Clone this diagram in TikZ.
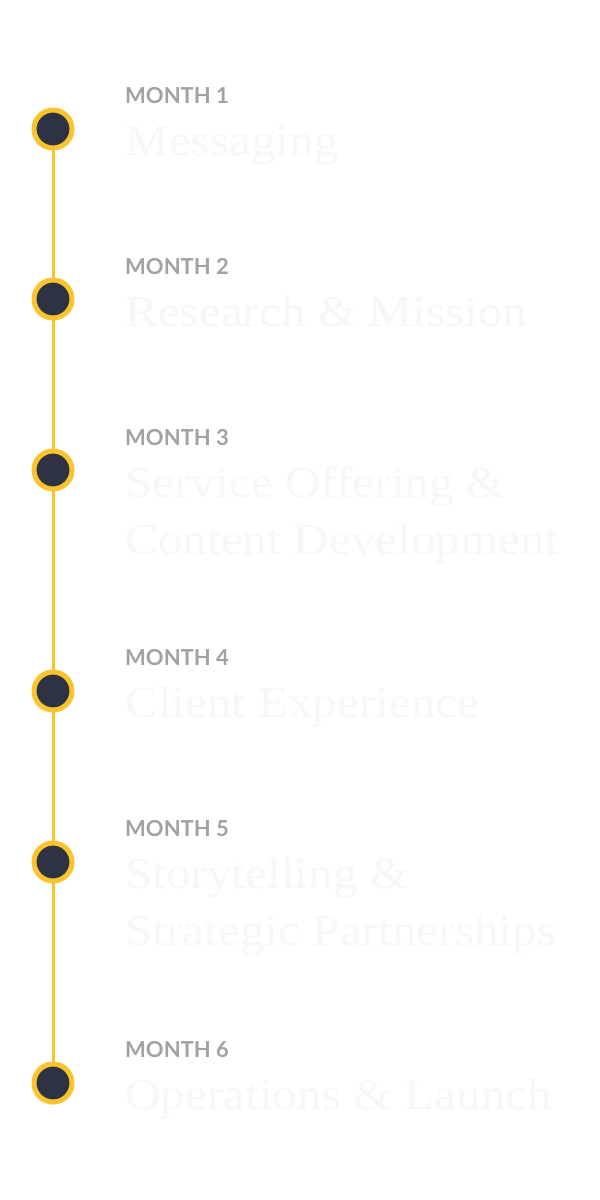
\documentclass[tikz,border=0pt]{standalone}
\usepackage{fontspec}
\setmainfont{Liberation Serif}[FakeStretch=1.12]
\newfontfamily\latofont{Lato}
\definecolor{gold}{HTML}{F9C42E}
\definecolor{navy}{HTML}{2E3344}
\definecolor{monthgray}{HTML}{A2A2A6}
\definecolor{faint}{HTML}{F7F7F7}
\tikzset{
  dot/.style={circle,fill=navy,draw=gold,line width=5pt,minimum size=38pt,inner sep=0pt},
  month/.style={anchor=base west,inner sep=0pt,text=monthgray,font=\latofont\bfseries\fontsize{22}{22}\selectfont},
  title/.style={anchor=base west,inner sep=0pt,text=faint,align=left,font=\fontsize{44}{57}\selectfont},
  rail/.style={draw=gold,line width=3pt}
}
\begin{document}
\begin{tikzpicture}[x=1pt,y=-1pt]
\useasboundingbox[fill=white] (0,0) rectangle (600,1200);
\foreach \i/\c in {1/129,2/299,3/470,4/691,5/862,6/1083}{
  \coordinate (c\i) at (53,\c);
}
\draw[rail] (c1) -- (c6);
\foreach \i in {1,...,6}{ \node[dot] (d\i) at (c\i) {}; }
\node[month] (m1) at (125,103) {MONTH 1};
\node[title] (t1) at (125,155) {Messaging};
\node[month] (m2) at (125,274) {MONTH 2};
\node[title] (t2) at (125,326) {Research \& Mission};
\node[month] (m3) at (125,445) {MONTH 3};
\node[title] (t3) at (125,554) {Service Offering \&\\Content Development};
\node[month] (m4) at (125,665) {MONTH 4};
\node[title] (t4) at (125,717) {Client Experience};
\node[month] (m5) at (125,836) {MONTH 5};
\node[title] (t5) at (125,945) {Storytelling \&\\Strategic Partnerships};
\node[month] (m6) at (125,1057) {MONTH 6};
\node[title] (t6) at (125,1109) {Operations \& Launch};
\end{tikzpicture}
\end{document}
